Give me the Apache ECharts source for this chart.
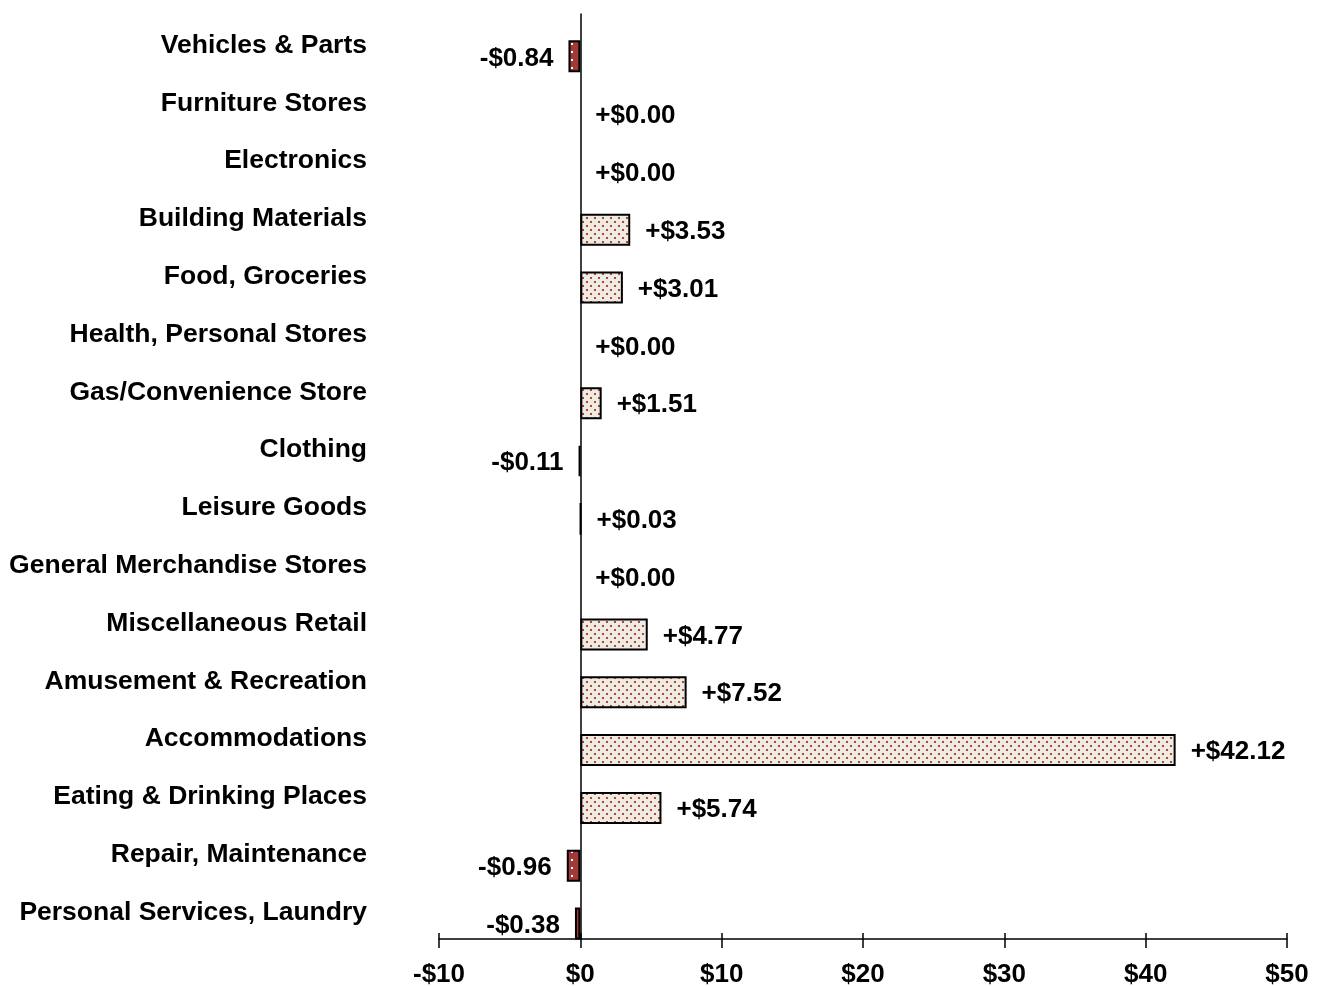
<!DOCTYPE html>
<html><head><meta charset="utf-8">
<script src="https://cdn.jsdelivr.net/npm/echarts@6/dist/echarts.min.js"></script>
<style>html,body{margin:0;padding:0;background:#fff}#c{width:1320px;height:986px}</style>
</head><body><div id="c"></div>
<script>
var categories = ["Vehicles & Parts","Furniture Stores","Electronics","Building Materials","Food, Groceries","Health, Personal Stores","Gas/Convenience Store","Clothing","Leisure Goods","General Merchandise Stores","Miscellaneous Retail","Amusement & Recreation","Accommodations","Eating & Drinking Places","Repair, Maintenance","Personal Services, Laundry"];
var values = [-0.84, 0.00, 0.00, 3.53, 3.01, 0.00, 1.51, -0.11, 0.03, 0.00, 4.77, 7.52, 42.12, 5.74, -0.96, -0.38];
var xTicks = [-10, 0, 10, 20, 30, 40, 50];

function makePattern(bg, dot, pts) {
  var c = document.createElement('canvas');
  c.width = 8; c.height = 8;
  var g = c.getContext('2d');
  g.fillStyle = bg; g.fillRect(0, 0, 8, 8);
  g.fillStyle = dot;
  pts.forEach(function (p) { g.fillRect(p[0], p[1], 2, 2); });
  return c;
}
var posPat = makePattern('#eeebe1', '#b04444', [[2, 1], [6, 5]]);
var negPat = makePattern('#a23a3a', '#ffffff', [[3, 3]]);

function fmt(v) { return (v < 0 ? '-$' : '+$') + Math.abs(v).toFixed(2); }

var font = 'Liberation Sans, Arial, sans-serif';
var data = values.map(function (v) {
  return {
    value: v,
    itemStyle: {
      color: { image: v < 0 ? negPat : posPat, repeat: 'repeat' },
      borderWidth: v === 0 ? 0 : 2
    },
    label: { position: v < 0 ? 'left' : 'right' }
  };
});

var chart = echarts.init(document.getElementById('c'));
chart.setOption({
  animation: false,
  backgroundColor: '#fff',
  grid: { left: 439, right: 33, top: 14, bottom: 47, containLabel: false, outerBoundsMode: 'none' },
  xAxis: [{
    type: 'value', min: -10, max: 50, interval: 10, position: 'bottom',
    axisLine: { show: true, onZero: false, lineStyle: { color: '#000', width: 1.5 } },
    axisTick: { show: true, length: 9, lineStyle: { color: '#000', width: 1.5 } },
    splitLine: { show: false },
    axisLabel: {
      margin: 23, color: '#000', fontFamily: font, fontSize: 26, fontWeight: 'bold',
      formatter: function (v) { return (v < 0 ? '-$' : '$') + Math.abs(v); }
    }
  }, {
    type: 'value', min: -10, max: 50, interval: 10, position: 'bottom',
    axisLine: { show: false, onZero: false },
    axisTick: { show: true, inside: true, length: 6, lineStyle: { color: '#000', width: 1.5 } },
    splitLine: { show: false },
    axisLabel: { show: false }
  }],
  yAxis: {
    type: 'category', data: categories, inverse: true,
    axisLine: { show: true, onZero: true, lineStyle: { color: '#000', width: 1.5 } },
    axisTick: { show: false },
    axisLabel: {
      margin: 72, color: '#000', fontFamily: font, fontSize: 26.5, fontWeight: 'bold',
      formatter: function (v) { return '{a|' + v + '}'; },
      rich: { a: { color: '#000', fontFamily: font, fontSize: 26.5, fontWeight: 'bold', padding: [5, 0, 0, 0] } }
    }
  },
  series: [{
    type: 'bar', name: 'spacer', data: values.map(function () { return null; }),
    barWidth: 32, barGap: '-16%', silent: true
  }, {
    type: 'bar', name: 'change', data: data,
    barWidth: 32, barGap: '-16%',
    itemStyle: { borderColor: '#000', borderWidth: 2 },
    label: {
      show: true, distance: 15, offset: [0, 2], color: '#000', fontFamily: font, fontSize: 26, fontWeight: 'bold',
      formatter: function (p) { return fmt(p.value); }
    }
  }]
});
</script></body></html>
